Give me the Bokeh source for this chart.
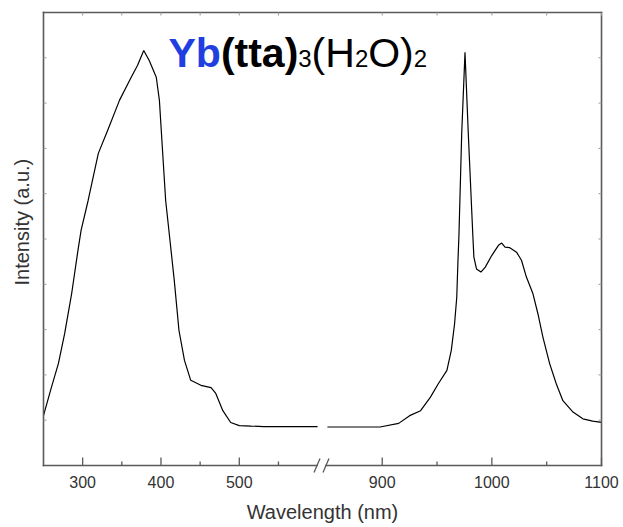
import numpy as np
from bokeh.plotting import figure
from bokeh.models import (Range1d, LinearAxis, FixedTicker, CustomJSTickFormatter,
                          Label, Title, ColumnDataSource)
from bokeh.embed import file_html
from bokeh.resources import INLINE

# Excitation band (nm, a.u.)
ex_wl = [250, 260, 269, 277, 286, 294, 298, 307, 320, 332, 347, 362, 370, 378,
         385, 394, 398, 402, 406, 411, 417, 423, 430, 438, 451, 464, 470, 479,
         489, 500, 515, 531, 548, 566, 583, 600]
ex_int = [1.10, 1.72, 2.25, 2.91, 3.80, 4.75, 5.19, 5.85, 6.89, 7.40, 8.06, 8.57,
          8.83, 9.16, 8.94, 8.57, 8.06, 6.95, 5.85, 5.05, 4.08, 2.98, 2.32, 1.88,
          1.77, 1.72, 1.59, 1.21, 0.95, 0.88, 0.87, 0.86, 0.86, 0.86, 0.86, 0.86]

# Yb3+ NIR emission band (nm, a.u.)
em_wl = [850, 875, 898, 915, 925, 935, 944, 951, 959, 963, 966, 968, 969, 970,
         972.5, 975.5, 978.5, 982.7, 983.6, 986, 990, 994, 1000, 1006, 1009, 1012,
         1016, 1022.5, 1027, 1031.5, 1037.5, 1042, 1046.6, 1052.7, 1058.8, 1064.8,
         1074, 1083, 1092, 1100]
em_int = [0.85, 0.85, 0.85, 0.93, 1.10, 1.21, 1.51, 1.80, 2.10, 2.54, 3.13, 3.72,
          4.46, 5.10, 7.33, 9.12, 7.33, 5.05, 4.60, 4.34, 4.27, 4.38, 4.64, 4.86,
          4.91, 4.82, 4.81, 4.71, 4.53, 4.16, 3.79, 3.35, 2.83, 2.25, 1.80, 1.43,
          1.18, 1.03, 0.98, 0.95]

x_ticks_nm = [300, 400, 500, 900, 1000, 1100]
x_minor_nm = [350, 450, 550, 950, 1050]
y_ticks = list(range(0, 11))
Y_MAX = 10.0

# Broken wavelength axis: 250-600 nm on the left, 850-1100 nm stretched on the right
LEFT_START, LEFT_END, RIGHT_START, RIGHT_END = 250.0, 600.0, 850.0, 1100.0
GAP, STRETCH = 12.5, 1.4


def brk(nm):
    nm = np.asarray(nm, dtype=float)
    return np.where(nm <= LEFT_END, nm, LEFT_END + GAP + (nm - RIGHT_START) * STRETCH)


def nir(u):
    return RIGHT_START + (u - LEFT_END - GAP) / STRETCH


U0, U1 = LEFT_START, float(brk(RIGHT_END))

# box geometry in pixels: drawn box is 559 x 453, the frame is padded around it
BOX_W, BOX_H = 559.0, 453.0
PAD_L, PAD_R, PAD_T, PAD_B = 3.0, 3.0, 3.0, 10.0
kx = (U1 - U0) / BOX_W          # data units per pixel, x
ky = Y_MAX / BOX_H              # data units per pixel, y

FRAME = "#5a5a5a"
TICK = "#9a9a9a"
FONT = "Liberation Sans"

p = figure(width=623, height=527,
           x_range=Range1d(U0 - PAD_L * kx, U1 + PAD_R * kx),
           y_range=Range1d(-PAD_B * ky, Y_MAX + PAD_T * ky),
           output_backend="svg", toolbar_location=None,
           x_axis_location=None, y_axis_location=None,
           min_border_left=39, min_border_right=19, min_border_top=9, min_border_bottom=52)
p.grid.visible = False
p.outline_line_color = None
p.background_fill_color = "white"

# right-hand segment uses its own wavelength range mapped onto the same frame
p.extra_x_ranges = {"nir": Range1d(nir(p.x_range.start), nir(p.x_range.end))}

ex_src = ColumnDataSource(dict(wl=ex_wl, inten=ex_int))
em_src = ColumnDataSource(dict(wl=em_wl, inten=em_int))
p.line("wl", "inten", source=ex_src, line_color="black", line_width=1.2)
p.line("wl", "inten", source=em_src, x_range_name="nir", line_color="black", line_width=1.2)

# box: top, left, right edges and the broken bottom edge
gap_c = LEFT_END + GAP / 2
gl, gr = gap_c - 5.5 * kx, gap_c + 3.5 * kx
p.segment(x0=[U0, U0, U1, U0, gr], y0=[Y_MAX, 0, 0, 0, 0],
          x1=[U1, U0, U1, gl, U1], y1=[Y_MAX, Y_MAX, Y_MAX, 0, 0],
          line_color=FRAME, line_width=1.6, line_cap="square")

# axis-break marks
for c in (gl, gr):
    p.segment(x0=[c - 3 * kx], y0=[-7 * ky], x1=[c + 3 * kx], y1=[7 * ky],
              line_color=FRAME, line_width=1.3)

# inward tick marks
xm = brk(x_ticks_nm)
xn = brk(x_minor_nm)
p.segment(x0=xm, y0=0, x1=xm, y1=8 * ky, line_color=FRAME, line_width=1.3)
p.segment(x0=xn, y0=0, x1=xn, y1=4 * ky, line_color=FRAME, line_width=1.3)
top_x = np.concatenate([xm, xn])
p.segment(x0=top_x, y0=Y_MAX, x1=top_x, y1=Y_MAX - 3 * ky, line_color=TICK, line_width=1)
yt = np.array(y_ticks[1:-1], dtype=float)
p.segment(x0=U0, y0=yt, x1=U0 + 3 * kx, y1=yt, line_color=TICK, line_width=1)
p.segment(x0=U1, y0=yt, x1=U1 - 3 * kx, y1=yt, line_color=TICK, line_width=1)

# bottom axis: tick labels and title only
fmt = CustomJSTickFormatter(
    args=dict(split=LEFT_END, gap=GAP, s=STRETCH, r0=RIGHT_START),
    code="return (tick <= split ? tick : r0 + (tick - split - gap) / s).toFixed(0);")
xb = LinearAxis(ticker=FixedTicker(ticks=[float(v) for v in xm]), formatter=fmt,
                axis_line_color=None, major_tick_line_color=None, minor_tick_line_color=None,
                major_tick_in=0, major_tick_out=0,
                major_label_standoff=0, major_label_text_font_size="16px",
                major_label_text_font=FONT, major_label_text_color="#333333",
                axis_label="Wavelength (nm)", axis_label_standoff=10,
                axis_label_text_font=FONT, axis_label_text_font_size="20px",
                axis_label_text_font_style="normal", axis_label_text_color="#333333")
p.add_layout(xb, "below")

p.add_layout(Title(text="Intensity (a.u.)", align="left", offset=190, standoff=16,
                   text_font=FONT, text_font_size="20px", text_font_style="normal",
                   text_color="#333333"), "left")


def txt(s, x, y, size, color="black", style="normal"):
    p.add_layout(Label(text=s, x=x, y=y, x_units="screen", y_units="screen",
                       text_font=FONT, text_font_size=size, text_color=color,
                       text_font_style=style, text_align="left",
                       text_baseline="alphabetic"))


# compound formula: Yb(tta)3(H2O)2
txt("Yb", 128, 423, "41px", color="#1f3fe0", style="bold")
txt("(tta)", 180.4, 423, "41px", style="bold")
txt("3", 257.8, 417, "24px")
txt("(H", 271.1, 423, "41px")
txt("2", 314.4, 417, "24px")
txt("O)", 327.7, 423, "41px")
txt("2", 373.3, 417, "24px")

open("out.html", "w").write(file_html(p, INLINE))
